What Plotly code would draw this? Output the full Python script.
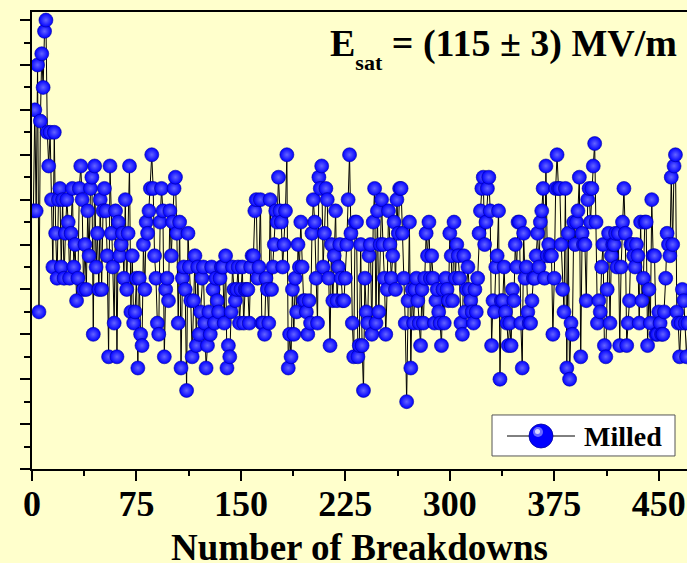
import plotly.graph_objects as go

# Breakdown field (arbitrary units, y labels not visible) for each successive breakdown
E_FIELD = [
    # 1-153
    117.5, 140, 117.5, 150, 95, 137.5, 152.5, 145, 157.5, 160,
    135, 127.5, 135, 120, 105, 135, 112.5, 102.5, 120, 122.5,
    105, 120, 102.5, 112.5, 120, 115, 102.5, 112.5, 122.5, 105,
    110, 97.5, 102.5, 122.5, 127.5, 120, 100, 110, 100, 117.5,
    107.5, 122.5, 125, 90, 127.5, 105, 112.5, 100, 120, 100,
    117.5, 122.5, 117.5, 107.5, 85, 127.5, 112.5, 105, 92.5, 117.5,
    85, 115, 107.5, 110, 112.5, 102.5, 120, 100, 112.5, 127.5,
    95, 107.5, 92.5, 95, 102.5, 82.5, 102.5, 90, 87.5, 110,
    100, 115, 112.5, 117.5, 122.5, 130, 122.5, 107.5, 102.5, 92.5,
    90, 115, 122.5, 117.5, 85, 100, 102.5, 97.5, 117.5, 107.5,
    115, 122.5, 125, 112.5, 92.5, 115, 82.5, 102.5, 105, 100,
    77.5, 112.5, 105, 97.5, 85, 97.5, 107.5, 87.5, 105, 90,
    95, 102.5, 105, 92.5, 82.5, 87.5, 95, 90, 105, 100,
    92.5, 102.5, 97.5, 95, 102.5, 105, 105, 92.5, 107.5, 82.5,
    87.5, 85, 95, 105, 100, 97.5, 100, 105, 92.5, 100,
    105, 92.5, 100,
    # 154-289
    100, 100, 92.5, 105, 107.5, 107.5, 117.5, 120, 102.5, 105,
    120, 92.5, 92.5, 90, 102.5, 100, 92.5, 120, 100, 105,
    110, 117.5, 115, 125, 117.5, 115, 105, 110, 117.5, 130,
    82.5, 90, 85, 100, 90, 102.5, 95, 110, 105, 115,
    105, 97.5, 97.5, 95, 90, 97.5, 92.5, 112.5, 120, 115,
    102.5, 92.5, 125, 122.5, 127.5, 105, 112.5, 122.5, 120, 102.5,
    87.5, 110, 97.5, 107.5, 117.5, 97.5, 105, 110, 102.5, 97.5,
    97.5, 102.5, 110, 120, 130, 112.5, 92.5, 85, 115, 115,
    85, 87.5, 110, 87.5, 77.5, 102.5, 95, 92.5, 107.5, 110,
    90, 115, 122.5, 92.5, 117.5, 95, 110, 120, 110, 102.5,
    90, 100, 117.5, 110, 102.5, 107.5, 115, 100, 120, 112.5,
    122.5, 122.5, 112.5, 102.5, 92.5, 75, 97.5, 115, 82.5, 100,
    92.5, 100, 102.5, 97.5, 92.5, 87.5, 100, 92.5, 102.5, 112.5,
    107.5, 115, 102.5, 107.5, 102.5, 92.5,
    # 290-471
    97.5, 100, 95, 92.5, 87.5, 100, 92.5, 102.5, 100, 97.5,
    112.5, 107.5, 97.5, 115, 102.5, 110, 107.5, 102.5, 92.5, 90,
    107.5, 95, 100, 105, 100, 97.5, 95, 92.5, 100, 95,
    102.5, 112.5, 117.5, 122.5, 125, 110, 115, 122.5, 125, 117.5,
    87.5, 97.5, 95, 105, 107.5, 117.5, 80, 97.5, 97.5, 105,
    95, 92.5, 87.5, 92.5, 87.5, 100, 97.5, 110, 105, 115,
    115, 92.5, 82.5, 112.5, 102.5, 105, 95, 92.5, 92.5, 97.5,
    102.5, 102.5, 107.5, 112.5, 105, 115, 117.5, 122.5, 102.5, 127.5,
    107.5, 110, 107.5, 107.5, 90, 102.5, 122.5, 130, 122.5, 122.5,
    110, 100, 95, 122.5, 82.5, 112.5, 80, 92.5, 90, 115,
    110, 115, 117.5, 125, 85, 112.5, 110, 110, 97.5, 120,
    122.5, 115, 122.5, 127.5, 132.5, 115, 92.5, 97.5, 95, 105,
    110, 87.5, 85, 100, 112.5, 92.5, 107.5, 110, 110, 112.5,
    105, 112.5, 87.5, 105, 115, 122.5, 112.5, 87.5, 92.5, 97.5,
    110, 110, 107.5, 105, 110, 107.5, 92.5, 115, 97.5, 102.5,
    115, 115, 87.5, 100, 92.5, 120, 107.5, 107.5, 90, 90,
    95, 92.5, 90, 90, 95, 102.5, 112.5, 110, 107.5, 125,
    110, 127.5, 130, 95, 92.5, 85, 92.5, 100, 97.5, 92.5,
    85, 92.5,
]
BREAKDOWN_NO = list(range(1, len(E_FIELD) + 1))

X_TICKS = [0, 75, 150, 225, 300, 375, 450]
SERIES_NAME = "Milled"
ANNOT = ("E<sub><sub><span style='font-size:22px'>sat</span></sub></sub>"
         " = (115 ± 3) MV/m")
X_TITLE = "Number of Breakdowns"

BG = "#FFFFCC"
FONT = "Liberation Serif, Times New Roman, serif"
BLUE = "#0000FF"

fig = go.Figure()
fig.add_trace(go.Scatter(
    x=BREAKDOWN_NO, y=E_FIELD, mode="lines+markers", name=SERIES_NAME,
    showlegend=False,
    line=dict(color="black", width=1),
    marker=dict(size=14, color=BLUE,
                gradient=dict(type="radial", color="#6464FF"),
                line=dict(width=0.6, color="#0000A0")),
))

# Legend key drawn as a framed box in the lower right (paper coordinates)
LEG_X0, LEG_X1, LEG_Y0, LEG_Y1 = 0.7023, 0.9817, 0.0285, 0.1182
LEG_YC = 0.0722
legend_shapes = [
    dict(type="rect", xref="paper", yref="paper", x0=LEG_X0, x1=LEG_X1,
         y0=LEG_Y0, y1=LEG_Y1, fillcolor="white", line=dict(color="#555555", width=1),
         layer="above"),
    dict(type="line", xref="paper", yref="paper", x0=0.7252, x1=0.8290,
         y0=LEG_YC, y1=LEG_YC, line=dict(color="black", width=1), layer="above"),
    dict(type="circle", xref="paper", yref="paper", xsizemode="pixel", ysizemode="pixel",
         xanchor=0.7771, yanchor=LEG_YC, x0=-12, x1=12, y0=-12, y1=12,
         fillcolor=BLUE, line=dict(color="#0000A0", width=0.8), layer="above"),
    dict(type="circle", xref="paper", yref="paper", xsizemode="pixel", ysizemode="pixel",
         xanchor=0.7771, yanchor=LEG_YC, x0=-8, x1=2, y0=-1, y1=9,
         fillcolor="#6A6AFF", line=dict(width=0), layer="above"),
    dict(type="circle", xref="paper", yref="paper", xsizemode="pixel", ysizemode="pixel",
         xanchor=0.7771, yanchor=LEG_YC, x0=-6, x1=-1, y0=2, y1=7,
         fillcolor="#D8D8FF", line=dict(width=0), layer="above"),
]

fig.update_layout(
    width=687, height=563,
    margin=dict(l=32, r=0, t=12, b=94),
    paper_bgcolor=BG, plot_bgcolor=BG,
    font=dict(family=FONT, color="black", weight="bold"),
    showlegend=False,
    shapes=legend_shapes,
    xaxis=dict(range=[0, 470.3], tickvals=X_TICKS, ticks="outside", ticklen=10,
               tickwidth=2, tickcolor="black", showline=True, linewidth=2,
               linecolor="black", mirror=True, showgrid=False, zeroline=False,
               automargin=False, ticklabelstandoff=-8,
               tickfont=dict(size=36, family=FONT, weight="bold"),
               minor=dict(dtick=37.5, tick0=0, ticks="outside", ticklen=5,
                          tickwidth=2, tickcolor="black", showgrid=False)),
    yaxis=dict(range=[60, 161.8], dtick=10, tick0=60, ticks="outside", ticklen=10,
               tickwidth=2, tickcolor="black", showline=True, linewidth=2,
               linecolor="black", mirror=False, showgrid=False, zeroline=False,
               automargin=False, showticklabels=False,
               minor=dict(dtick=5, tick0=60, ticks="outside", ticklen=6,
                          tickwidth=2, tickcolor="black", showgrid=False)),
    annotations=[
        dict(text=ANNOT, xref="paper", yref="paper", x=0.988, y=0.982,
             xanchor="right", yanchor="top", showarrow=False,
             font=dict(size=38, family=FONT, weight="bold")),
        dict(text=SERIES_NAME, xref="paper", yref="paper", x=0.8397, y=LEG_YC,
             xanchor="left", yanchor="middle", showarrow=False,
             font=dict(size=28, family=FONT, weight="bold")),
        dict(text=X_TITLE, xref="paper", yref="paper", x=0.5, y=-0.1728,
             xanchor="center", yanchor="middle", showarrow=False,
             font=dict(size=37, family=FONT, weight="bold")),
    ],
)

fig.write_html("out.html")
